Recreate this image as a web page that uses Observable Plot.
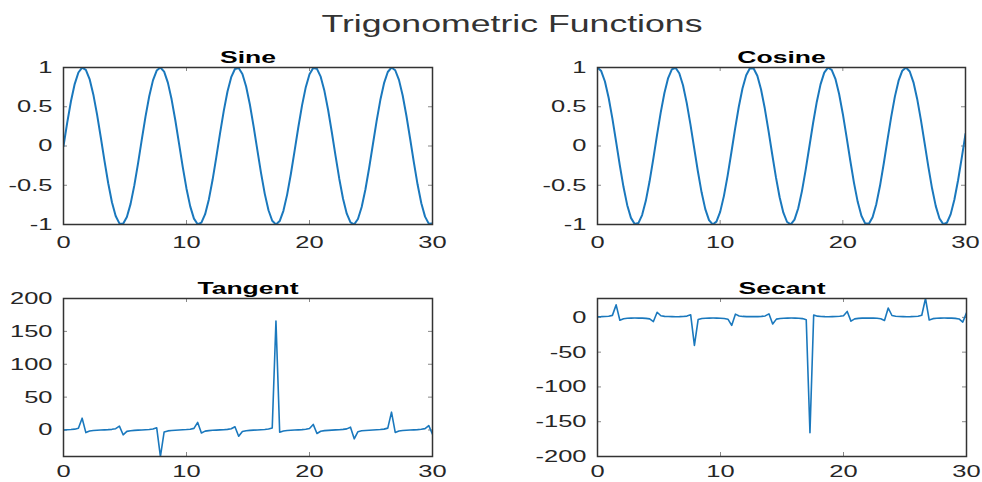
<!DOCTYPE html>
<html>
<head>
<meta charset="utf-8">
<script src="https://cdn.jsdelivr.net/npm/d3@7"></script>
<script src="https://cdn.jsdelivr.net/npm/@observablehq/plot@0.6"></script>
<style>
  html, body { margin: 0; padding: 0; background: #fff; }
  #wrap { position: relative; width: 982px; height: 482px; overflow: hidden; background: #fff;
          font-family: "Liberation Sans", Arial, Helvetica, sans-serif; }
  #mainTitle { position: absolute; left: 21px; top: 13px; width: 982px; text-align: center;
               font-size: 23px; line-height: 23px; color: #333; white-space: nowrap;
               transform: scaleX(1.55); transform-origin: 50% 50%; }
</style>
</head>
<body>
<div id="wrap"><div id="mainTitle"></div></div>
<script>
// ---- data ----
const mainTitle = "Trigonometric Functions";
const titles = ["Sine", "Cosine", "Tangent", "Secant"];

const xs = [
  0, 0.303, 0.606, 0.909, 1.212, 1.515, 1.818, 2.121, 2.424, 2.727,
  3.030, 3.333, 3.636, 3.939, 4.242, 4.545, 4.848, 5.152, 5.455, 5.758,
  6.061, 6.364, 6.667, 6.970, 7.273, 7.576, 7.879, 8.182, 8.485, 8.788,
  9.091, 9.394, 9.697, 10, 10.303, 10.606, 10.909, 11.212, 11.515, 11.818,
  12.121, 12.424, 12.727, 13.030, 13.333, 13.636, 13.939, 14.242, 14.545, 14.848,
  15.152, 15.455, 15.758, 16.061, 16.364, 16.667, 16.970, 17.273, 17.576, 17.879,
  18.182, 18.485, 18.788, 19.091, 19.394, 19.697, 20, 20.303, 20.606, 20.909,
  21.212, 21.515, 21.818, 22.121, 22.424, 22.727, 23.030, 23.333, 23.636, 23.939,
  24.242, 24.545, 24.848, 25.152, 25.455, 25.758, 26.061, 26.364, 26.667, 26.970,
  27.273, 27.576, 27.879, 28.182, 28.485, 28.788, 29.091, 29.394, 29.697, 30
];

const sineVals = [
  0, 0.2984, 0.5697, 0.7889, 0.9364, 0.9985, 0.9696, 0.8523, 0.6574, 0.4026,
  0.1111, -0.1906, -0.4748, -0.7158, -0.8916, -0.9861, -0.9908, -0.9051, -0.7370, -0.5017,
  -0.2208, 0.0804, 0.3742, 0.6338, 0.8358, 0.9615, 0.9997, 0.9468, 0.8075, 0.5947,
  0.3277, 0.0308, -0.2689, -0.5440, -0.7696, -0.9251, -0.9963, -0.9767, -0.8680, -0.6803,
  -0.4306, -0.1416, 0.1602, 0.4475, 0.6940, 0.8772, 0.9805, 0.9945, 0.9178, 0.7575,
  0.5282, 0.2507, -0.0496, -0.3454, -0.6097, -0.8185, -0.9526, -1.0000, -0.9562, -0.8253,
  -0.6192, -0.3567, -0.0616, 0.2390, 0.5179, 0.7496, 0.9129, 0.9931, 0.9828, 0.8829,
  0.7026, 0.4582, 0.1721, -0.1297, -0.4197, -0.6714, -0.8620, -0.9740, -0.9972, -0.9296,
  -0.7773, -0.5541, -0.2804, 0.0188, 0.3163, 0.5850, 0.8004, 0.9428, 0.9993, 0.9648,
  0.8423, 0.6431, 0.3853, 0.0924, -0.2090, -0.4913, -0.7288, -0.8999, -0.9890, -0.9880
];

const cosineVals = [
  1, 0.9544, 0.8219, 0.6145, 0.3510, 0.0556, -0.2449, -0.5231, -0.7536, -0.9154,
  -0.9938, -0.9817, -0.8801, -0.6983, -0.4529, -0.1662, 0.1357, 0.4252, 0.6759, 0.8650,
  0.9753, 0.9968, 0.9274, 0.7735, 0.5491, 0.2747, -0.0248, -0.3220, -0.5899, -0.8039,
  -0.9448, -0.9995, -0.9632, -0.8391, -0.6385, -0.3797, -0.0864, 0.2149, 0.4965, 0.7329,
  0.9025, 0.9899, 0.9871, 0.8943, 0.7200, 0.4801, 0.1965, -0.1051, -0.3970, -0.6528,
  -0.8491, -0.9681, -0.9988, -0.9385, -0.7926, -0.5746, -0.3042, -0.0060, 0.2927, 0.5647,
  0.7852, 0.9342, 0.9981, 0.9710, 0.8555, 0.6619, 0.4081, 0.1171, -0.1847, -0.4695,
  -0.7116, -0.8889, -0.9851, -0.9916, -0.9077, -0.7411, -0.5070, -0.2266, 0.0744, 0.3686,
  0.6292, 0.8325, 0.9599, 0.9998, 0.9487, 0.8111, 0.5996, 0.3334, 0.0369, -0.2630,
  -0.5390, -0.7658, -0.9228, -0.9957, -0.9779, -0.8710, -0.6847, -0.4360, -0.1476, 0.1542
];

const tangentVals = [
  0, 0.313, 0.693, 1.284, 2.667, 17.953, -3.959, -1.630, -0.872, -0.440,
  -0.112, 0.194, 0.540, 1.025, 1.969, 5.935, -7.302, -2.129, -1.091, -0.580,
  -0.226, 0.081, 0.404, 0.820, 1.522, 3.501, -40.30, -2.940, -1.369, -0.740,
  -0.347, -0.031, 0.279, 0.648, 1.205, 2.436, 11.534, -4.546, -1.748, -0.928,
  -0.477, -0.143, 0.162, 0.500, 0.964, 1.827, 4.991, -9.465, -2.312, -1.160,
  -0.622, -0.259, 0.050, 0.368, 0.769, 1.424, 3.132, 165.76, -3.267, -1.462,
  -0.789, -0.382, -0.062, 0.246, 0.605, 1.132, 2.237, 8.485, -5.322, -1.881,
  -0.987, -0.516, -0.175, 0.131, 0.462, 0.906, 1.700, 4.298, -13.41, -2.522,
  -1.235, -0.666, -0.292, 0.019, 0.333, 0.721, 1.335, 2.828, 27.11, -3.668,
  -1.563, -0.840, -0.418, -0.093, 0.214, 0.564, 1.064, 2.064, 6.700, -6.405
];

const secantVals = [
  1, 1.048, 1.217, 1.627, 2.849, 17.981, -4.084, -1.912, -1.327, -1.092,
  -1.006, -1.019, -1.136, -1.432, -2.208, -6.018, 7.370, 2.352, 1.480, 1.156,
  1.025, 1.003, 1.078, 1.293, 1.821, 3.641, -40.32, -3.106, -1.695, -1.244,
  -1.058, -1.001, -1.038, -1.192, -1.566, -2.633, -11.578, 4.654, 2.014, 1.364,
  1.108, 1.010, 1.013, 1.118, 1.389, 2.083, 5.090, -9.518, -2.519, -1.532,
  -1.178, -1.033, -1.001, -1.066, -1.262, -1.740, -3.288, -165.76, 3.417, 1.771,
  1.274, 1.070, 1.002, 1.030, 1.169, 1.511, 2.451, 8.543, -5.416, -2.130,
  -1.405, -1.125, -1.015, -1.009, -1.102, -1.349, -1.973, -4.413, 13.45, 2.713,
  1.589, 1.201, 1.042, 1.000, 1.054, 1.233, 1.668, 2.999, 27.13, -3.802,
  -1.855, -1.306, -1.084, -1.004, -1.023, -1.148, -1.460, -2.293, -6.774, 6.483
];

const xTicks = [0, 10, 20, 30];
const xTickLabels = ["0", "10", "20", "30"];
const trigYTicks = [-1, -0.5, 0, 0.5, 1];
const trigYLabels = ["-1", "-0.5", "0", "0.5", "1"];
const tanYTicks = [0, 50, 100, 150, 200];
const tanYLabels = ["0", "50", "100", "150", "200"];
const secYTicks = [-200, -150, -100, -50, 0];
const secYLabels = ["-200", "-150", "-100", "-50", "0"];

// ---- drawing ----
const lineColor = "#1a78bd";
const textColor = "#262626";

function stretchText(svg) {
  svg.querySelectorAll("text").forEach(t => {
    const inTitle = t.closest('g[aria-label="text"]');
    const k = inTitle ? 1.56 : 1.5;
    const tr = t.getAttribute("transform") || "";
    t.setAttribute("transform", tr + ` scale(${k},1)`);
    const x = t.getAttribute("x");
    if (x !== null && !isNaN(+x) && +x !== 0) t.setAttribute("x", +x / k);
  });
}

function panel(o) {
  const innerW = o.width - o.mL - o.mR;
  const innerH = o.height - o.mT - o.mB;
  const svg = Plot.plot({
    width: o.width, height: o.height,
    marginLeft: o.mL, marginRight: o.mR, marginTop: o.mT, marginBottom: o.mB,
    style: { fontFamily: '"Liberation Sans", Arial, Helvetica, sans-serif', color: textColor, background: "transparent", overflow: "visible" },
    x: { domain: [0, 30] },
    y: { domain: o.yDomain },
    marks: [
      Plot.tickY(o.yTicks, { y: d => d, insetRight: innerW - 4, stroke: "#888", strokeWidth: 1 }),
      Plot.tickY(o.yTicks, { y: d => d, insetLeft: innerW - 4, stroke: "#888", strokeWidth: 1 }),
      Plot.tickX(xTicks, { x: d => d, insetTop: innerH - 4, stroke: "#888", strokeWidth: 1 }),
      Plot.tickX(xTicks, { x: d => d, insetBottom: innerH - 4, stroke: "#888", strokeWidth: 1 }),
      Plot.line(xs, { x: d => d, y: (d, i) => o.vals[i], stroke: lineColor, strokeWidth: o.sw, clip: true }),
      Plot.frame({ stroke: "#333", strokeWidth: 1.5 }),
      Plot.axisX({ ticks: xTicks, tickSize: 0, tickPadding: o.xPad, fontSize: 17, label: null,
                   tickFormat: d => xTickLabels[xTicks.indexOf(d)] }),
      Plot.axisY({ ticks: o.yTicks, tickSize: 0, tickPadding: 11, fontSize: 17, label: null,
                   tickFormat: d => o.yLabels[o.yTicks.indexOf(d)] }),
      Plot.text([o.title], { text: d => d, frameAnchor: "top", dy: -5, lineAnchor: "bottom",
                             fontWeight: "bold", fontSize: 17, fill: "#000" })
    ]
  });
  stretchText(svg);
  svg.style.position = "absolute";
  svg.style.left = o.left + "px";
  svg.style.top = o.top + "px";
  return svg;
}

const wrap = document.getElementById("wrap");
document.getElementById("mainTitle").textContent = mainTitle;

wrap.appendChild(panel({ vals: sineVals, title: titles[0], yDomain: [-1, 1], yTicks: trigYTicks, yLabels: trigYLabels,
  left: 0, top: 40, width: 491, height: 220, mL: 63, mR: 59, mT: 27, mB: 36, sw: 2, xPad: 11 }));
wrap.appendChild(panel({ vals: cosineVals, title: titles[1], yDomain: [-1, 1], yTicks: trigYTicks, yLabels: trigYLabels,
  left: 491, top: 40, width: 491, height: 220, mL: 106, mR: 17, mT: 27, mB: 36, sw: 2, xPad: 11 }));
wrap.appendChild(panel({ vals: tangentVals, title: titles[2], yDomain: [d3.min(tangentVals), 200], yTicks: tanYTicks, yLabels: tanYLabels,
  left: 0, top: 259, width: 491, height: 222, mL: 63, mR: 59, mT: 39, mB: 25, sw: 1.6, xPad: 8 }));
wrap.appendChild(panel({ vals: secantVals, title: titles[3], yDomain: [-200, d3.max(secantVals)], yTicks: secYTicks, yLabels: secYLabels,
  left: 491, top: 259, width: 491, height: 222, mL: 106, mR: 16, mT: 39, mB: 25, sw: 1.6, xPad: 8 }));
</script>
</body>
</html>
